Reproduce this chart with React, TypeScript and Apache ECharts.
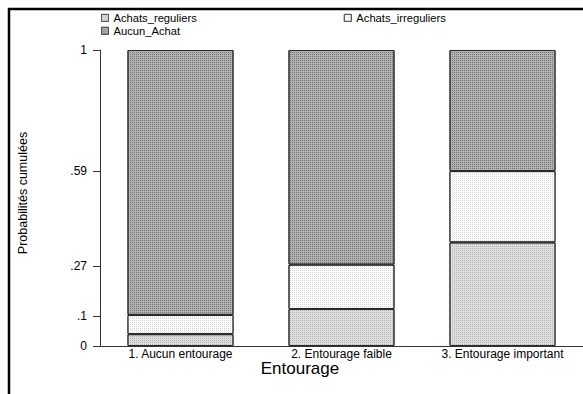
import React, { useEffect, useRef } from "react";
import * as echarts from "echarts";

const categories = ["1. Aucun entourage", "2. Entourage faible", "3. Entourage important"];
const seriesNames = ["Achats_reguliers", "Achats_irreguliers", "Aucun_Achat"];
const achatsReguliers = [0.04, 0.125, 0.35];
const achatsIrreguliers = [0.065, 0.15, 0.241];
const aucunAchat = [0.895, 0.725, 0.409];
const yTickValues = [0, 0.1, 0.27, 0.59, 1];
const yTickLabels = ["0", ".1", ".27", ".59", "1"];

const FONT = "'Liberation Sans', Arial, Helvetica, sans-serif";

export default function App() {
  const ref = useRef<HTMLDivElement>(null);

  useEffect(() => {
    if (!ref.current) return;
    const chart = echarts.init(ref.current, undefined, { renderer: "svg" });
    const border = { borderColor: "#2a2a2a", borderWidth: 1 };
    const mk = (name: string, data: number[], color: string, dot: string) => ({
      name,
      type: "bar",
      stack: "total",
      data,
      barWidth: 106,
      itemStyle: {
        color,
        ...border,
        decal: {
          symbol: "rect",
          symbolSize: 1,
          color: dot,
          dashArrayX: [1, 1],
          dashArrayY: [1, 1],
          rotation: 0,
        },
      },
      emphasis: { disabled: true },
    });
    const legendText = { fontSize: 11.2, lineHeight: 11, color: "#000", fontFamily: FONT };
    const legendItem = { borderColor: "#555", borderWidth: 1 };
    chart.setOption({
      animation: false,
      backgroundColor: "#ffffff",
      aria: { enabled: true, decal: { show: true } },
      textStyle: { fontFamily: FONT },
      grid: { left: 100, top: 50, width: 484, height: 296, containLabel: false },
      legend: [
        {
          data: [seriesNames[0], seriesNames[1]],
          left: 101,
          top: 12.4,
          padding: 0,
          icon: "rect",
          itemWidth: 7,
          itemHeight: 7,
          itemGap: 147,
          itemStyle: legendItem,
          textStyle: legendText,
          selectedMode: false,
        },
        {
          data: [seriesNames[2]],
          left: 101,
          top: 25.3,
          padding: 0,
          icon: "rect",
          itemWidth: 7,
          itemHeight: 7,
          itemStyle: legendItem,
          textStyle: legendText,
          selectedMode: false,
        },
      ],
      xAxis: {
        type: "category",
        data: categories,
        axisLine: { show: true, lineStyle: { color: "#333", width: 1 } },
        axisTick: { show: false },
        axisLabel: { fontSize: 12, color: "#000", margin: 2, fontFamily: FONT },
        splitLine: { show: false },
      },
      yAxis: {
        type: "value",
        min: 0,
        max: 1,
        axisLine: { show: true, lineStyle: { color: "#333", width: 1 } },
        axisTick: { show: true, length: 7, customValues: yTickValues, lineStyle: { color: "#333" } },
        axisLabel: {
          customValues: yTickValues,
          fontSize: 12,
          color: "#000",
          margin: 13,
          fontFamily: FONT,
          formatter: (v: number) => {
            let best = 0;
            for (let i = 0; i < yTickValues.length; i++) {
              if (Math.abs(yTickValues[i] - v) < Math.abs(yTickValues[best] - v)) best = i;
            }
            return yTickLabels[best];
          },
        },
        splitLine: { show: false },
      },
      graphic: [
        {
          type: "rect",
          shape: { x: 9, y: 9, width: 700, height: 500 },
          style: { fill: "none", stroke: "#000", lineWidth: 2.5 },
          silent: true,
        },
        {
          type: "text",
          x: 300,
          y: 368,
          style: { text: "Entourage", fontSize: 17, fill: "#000", align: "center", verticalAlign: "middle", fontFamily: FONT },
          silent: true,
        },
        {
          type: "text",
          x: 23,
          y: 193,
          rotation: Math.PI / 2,
          style: { text: "Probabilités cumulées", fontSize: 12.5, fill: "#000", align: "center", verticalAlign: "middle", fontFamily: FONT },
          silent: true,
        },
      ],
      series: [
        mk(seriesNames[0], achatsReguliers, "#dedede", "#b4b4b4"),
        mk(seriesNames[1], achatsIrreguliers, "#ffffff", "#d4d4d4"),
        mk(seriesNames[2], aucunAchat, "#b2b2b2", "#747474"),
      ],
    });
    return () => chart.dispose();
  }, []);

  return (
    <div
      ref={ref}
      style={{ position: "absolute", left: 0, top: 0, width: 583, height: 394, background: "#fff" }}
    />
  );
}
